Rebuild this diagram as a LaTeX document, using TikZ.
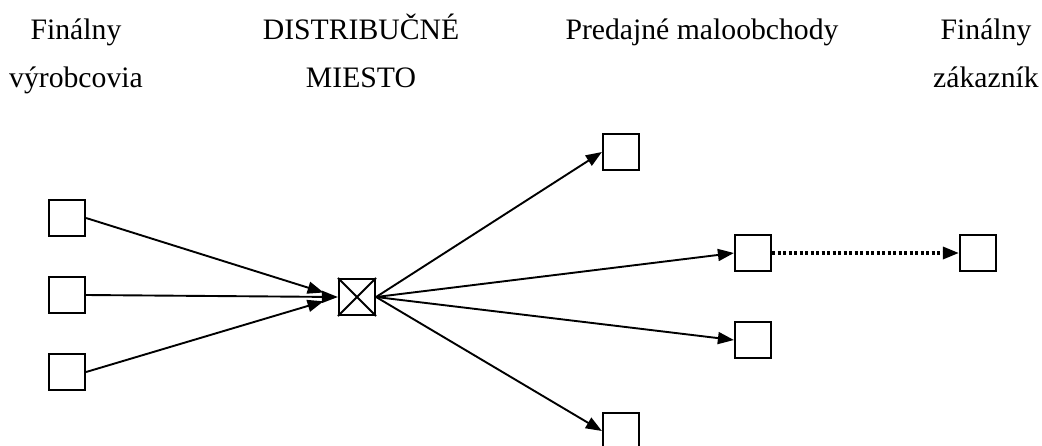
\documentclass[tikz,border=0pt]{standalone}
\usepackage{fontspec}
\setmainfont{Liberation Serif}
\usetikzlibrary{arrows.meta}

\begin{document}
\begin{tikzpicture}[x=1pt, y=-1pt,
    box/.style={draw, line width=2.2pt, minimum size=36pt, inner sep=0pt, fill=white},
    lbl/.style={inner sep=0pt, anchor=base, align=center,
      font=\fontsize{29.7}{48}\selectfont},
    tip/.style={-{Triangle[length=16pt, width=12pt]}, line width=1.9pt}]
      \useasboundingbox (0,0) rectangle (1042,445);

      % column titles
      \node[lbl] (tprod) at (76,87) {Finálny\\výrobcovia};
      \node[lbl] (tdist) at (361,87) {DISTRIBUČNÉ\\MIESTO};
      \node[lbl] (tshop) at (702,39) {Predajné maloobchody};
      \node[lbl] (tcust) at (986,87) {Finálny\\zákazník};

      % producers
      \node[box] (p1) at (67,218) {};
      \node[box] (p2) at (67,295) {};
      \node[box] (p3) at (67,372) {};

      % distribution point
      \node[box] (hub) at (357,297) {};
      \draw[line width=1.8pt] (hub.north west) -- (hub.south east)
        (hub.north east) -- (hub.south west);

      % retailers and customer
      \node[box] (r1) at (621,152) {};
      \node[box] (r2) at (753,253) {};
      \node[box] (r3) at (753,340) {};
      \node[box] (r4) at (621,431) {};
      \node[box] (cust) at (978,253) {};

      \draw[tip, shorten >=15pt] (p1.east) -- (hub.west);
      \draw[tip] (p2.east) -- (hub.west);
      \draw[tip, shorten >=15pt] (p3.east) -- (hub.west);

      \foreach \r in {r1,r2,r3,r4}
        \draw[tip] (hub.east) -- (\r.west);

      \draw[tip, line width=3.2pt, dash pattern=on 3pt off 2.5pt] (r2.east) -- (cust.west);
\end{tikzpicture}
\end{document}
